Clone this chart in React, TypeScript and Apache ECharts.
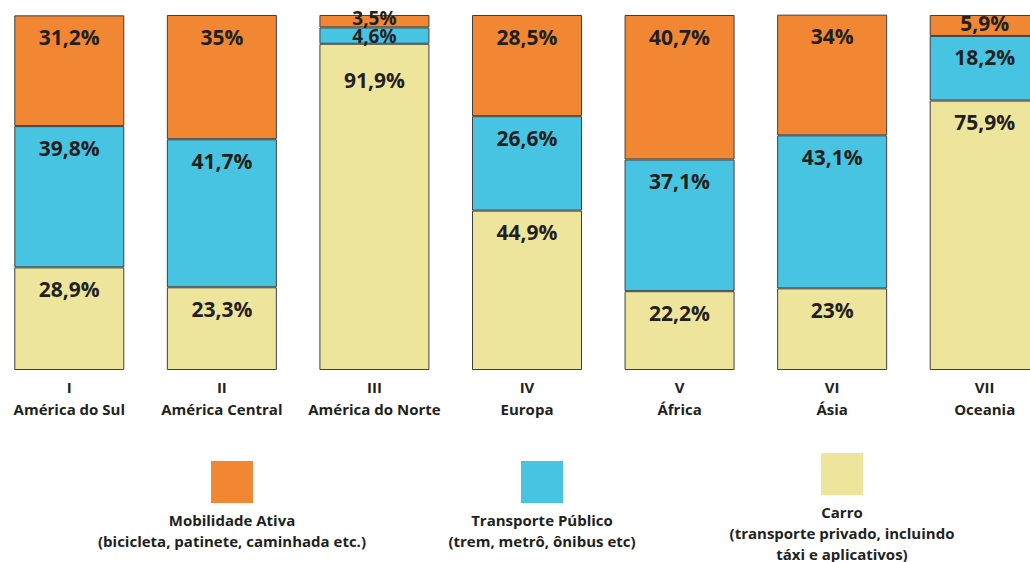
import React, { useEffect, useRef } from "react";
import * as echarts from "echarts";

const numerals = ["I", "II", "III", "IV", "V", "VI", "VII"];
const regions = ["América do Sul", "América Central", "América do Norte", "Europa", "África", "Ásia", "Oceania"];
const mobilidadeAtiva = [31.2, 35, 3.5, 28.5, 40.7, 34, 5.9];
const transportePublico = [39.8, 41.7, 4.6, 26.6, 37.1, 43.1, 18.2];
const carro = [28.9, 23.3, 91.9, 44.9, 22.2, 23, 75.9];
const seriesNames = ["Mobilidade Ativa", "Transporte Público", "Carro"];
const legendNotes = [
  "(bicicleta, patinete, caminhada etc.)",
  "(trem, metrô, ônibus etc)",
  "(transporte privado, incluindo\ntáxi e aplicativos)",
];
const colors = ["#F18733", "#48C4E3", "#EEE59C"];

const FONT = "'Open Sans', 'Noto Sans', sans-serif";
const TEXT = "#231F20";

const fmt = (v: number) => String(v).replace(".", ",") + "%";

function labelFor(v: number) {
  if (v < 5) return { position: "inside", offset: [0, v < 4 ? -3 : 0], fontSize: 19, lineHeight: 13 };
  if (v < 10) return { position: "inside", offset: [0, -2], lineHeight: 14 };
  if (v > 90) return { distance: 26 };
  return undefined;
}

function makeSeries(name: string, values: number[], color: string) {
  return {
    name,
    type: "bar",
    stack: "total",
    barWidth: 110,
    itemStyle: { color, borderColor: "#3f3f3f", borderWidth: 1 },
    label: {
      show: true,
      position: "insideTop",
      distance: 11,
      formatter: (p: any) => fmt(p.value),
      fontFamily: FONT,
      fontWeight: "bold",
      fontSize: 21,
      color: TEXT,
    },
    data: values.map((v) => ({ value: v, label: labelFor(v) })),
  };
}

export default function App() {
  const ref = useRef<HTMLDivElement>(null);
  useEffect(() => {
    if (!ref.current) return;
    const chart = echarts.init(ref.current, undefined, { renderer: "svg" });
    const legendX = [232, 542, 842];
    const legendY = [461, 461, 453];
    const graphic: any[] = [];
    seriesNames.forEach((name, i) => {
      graphic.push({
        type: "rect",
        shape: { x: legendX[i] - 21 + 7, y: legendY[i], width: 42, height: 42 },
        style: { fill: colors[i] },
      });
      graphic.push({
        type: "text",
        style: {
          x: legendX[i] + 7,
          y: legendY[i] + 48,
          text: name + "\n" + legendNotes[i],
          textAlign: "center",
          textVerticalAlign: "top",
          fontFamily: FONT,
          fontWeight: "bold",
          fontSize: 15,
          lineHeight: 21,
          fill: TEXT,
        },
      });
    });
    chart.setOption({
      animation: false,
      grid: { left: 0, right: 0, top: 15, bottom: 192 },
      xAxis: {
        type: "category",
        data: numerals.map((n, i) => n + "\n" + regions[i]),
        axisLine: { show: false },
        axisTick: { show: false },
        axisLabel: {
          margin: 6,
          interval: 0,
          fontFamily: FONT,
          fontWeight: "bold",
          fontSize: 15,
          lineHeight: 22,
          color: TEXT,
        },
      },
      yAxis: { type: "value", min: 0, max: 100, show: false },
      series: [
        makeSeries(seriesNames[2], carro, colors[2]),
        makeSeries(seriesNames[1], transportePublico, colors[1]),
        makeSeries(seriesNames[0], mobilidadeAtiva, colors[0]),
      ],
      graphic,
    });
    return () => chart.dispose();
  }, []);
  return (
    <div style={{ position: "fixed", left: 0, top: 0, width: 1030, height: 562, overflow: "hidden", background: "#fff" }}>
      <div ref={ref} style={{ position: "absolute", left: -7, top: 0, width: 1068, height: 562 }} />
    </div>
  );
}
